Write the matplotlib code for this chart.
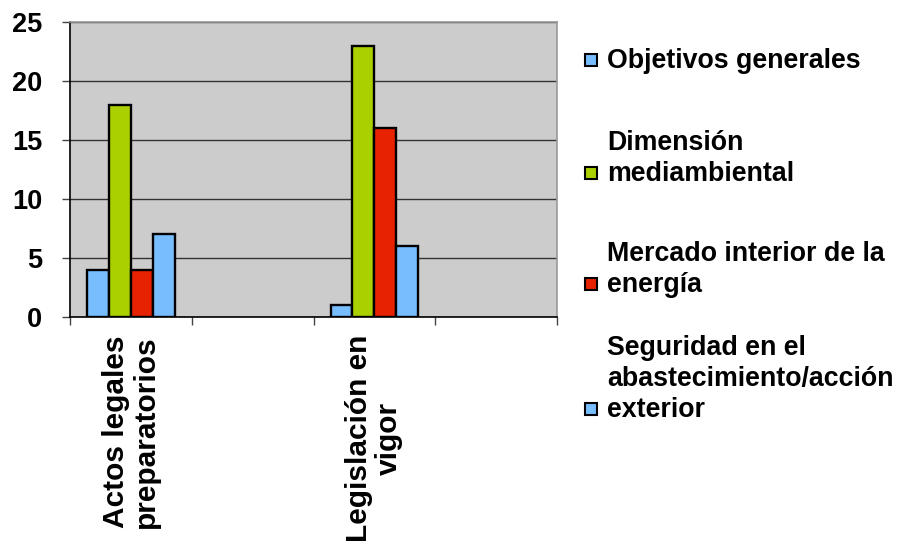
import numpy as np
import matplotlib.pyplot as plt
from matplotlib.patches import Rectangle

plt.rcParams['font.family'] = ['Liberation Sans', 'DejaVu Sans']
plt.rcParams['font.weight'] = 'bold'

categories = ['Actos legales\npreparatorios', '', 'Legislación en\nvigor', '']
series = ['Objetivos generales',
          'Dimensión\nmediambiental',
          'Mercado interior de la\nenergía',
          'Seguridad en el\nabastecimiento/acción\nexterior']
objetivos = [4, np.nan, 1, np.nan]
dimension = [18, np.nan, 23, np.nan]
mercado = [4, np.nan, 16, np.nan]
seguridad = [7, np.nan, 6, np.nan]
colors = ['#78BEFF', '#AAD000', '#E62200', '#78BEFF']

W, H = 901, 545
fs = 19.3

fig = plt.figure(figsize=(W / 100, H / 100), dpi=100)
ax = fig.add_axes([70 / W, 1 - 317 / H, 487 / W, 295 / H])
ax.set_facecolor('#CCCCCC')

x = np.arange(len(categories))
w = 0.18
for i, (vals, c) in enumerate(zip([objetivos, dimension, mercado, seguridad], colors)):
    ax.bar(x + (i - 1.5) * w, vals, w, color=c, edgecolor='black', linewidth=1.7, zorder=3)

ax.set_xlim(-0.5, len(categories) - 0.5)
ax.set_ylim(0, 25)
ax.set_yticks(range(0, 26, 5))
ax.yaxis.grid(True, color='#333333', linewidth=1.0, zorder=1)

ax.set_xticks(x)
ax.set_xticklabels(categories, rotation=90, ha='center', va='top',
                   multialignment='center', fontsize=21.5, fontweight='bold',
                   linespacing=1.08)
ax.set_xticks(np.arange(-0.5, len(categories)), minor=True)
ax.tick_params(axis='x', which='major', length=0, pad=13)
ax.tick_params(axis='x', which='minor', length=6, width=1, color='#444444', direction='out')
ax.tick_params(axis='y', length=6, width=1, color='#444444', labelsize=19.5, pad=14)

for side in ['left', 'bottom']:
    ax.spines[side].set_color('black')
    ax.spines[side].set_linewidth(1.2)
for side in ['top', 'right']:
    ax.spines[side].set_color('#999999')
    ax.spines[side].set_linewidth(1.2)

# legend drawn by hand: key box sits beside the last line of each label
last_baselines = [68, 181, 292, 417]
for label, c, y_last in zip(series, colors, last_baselines):
    fig.text(607 / W, 1 - y_last / H, label, fontsize=fs, fontweight='bold',
             ha='left', va='baseline', linespacing=1.24)
    fig.patches.append(Rectangle((585 / W, 1 - (y_last - 2) / H), 12 / W, 12 / H,
                                 transform=fig.transFigure, facecolor=c,
                                 edgecolor='black', linewidth=1.5))

fig.savefig('out.png', dpi=100)
